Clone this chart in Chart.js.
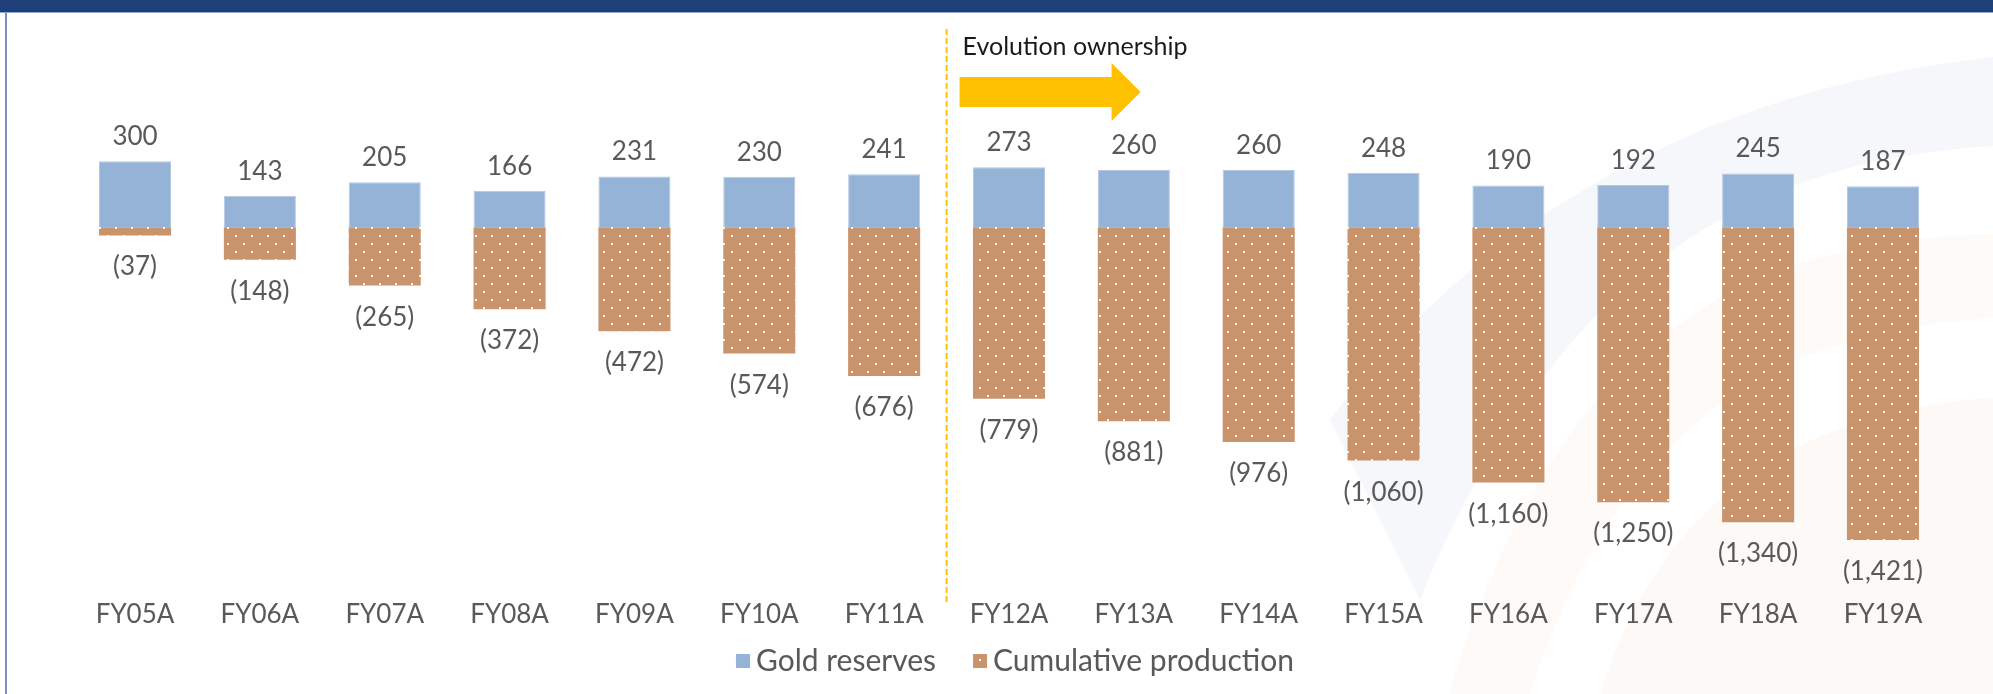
<!DOCTYPE html>
<html>
<head>
<meta charset="utf-8">
<script src="https://cdn.jsdelivr.net/npm/chart.js@4.4.1/dist/chart.umd.min.js"></script>
<style>
  html, body { margin: 0; padding: 0; background: #ffffff; }
  #wrap { position: relative; width: 1993px; height: 694px; overflow: hidden; background: #ffffff; }
  #hdr { position: absolute; left: 0; top: 0; width: 1993px; height: 12px; background: #1F3F78; border-bottom: 1px solid #8FA9D6; }
  #lborder { position: absolute; left: 5px; top: 13px; width: 2px; height: 681px; background: #7590BA; }
  canvas { position: absolute; left: 0; top: 0; }
</style>
</head>
<body>
<div id="wrap">
  <canvas id="c" width="1993" height="694"></canvas>
  <div id="hdr"></div>
  <div id="lborder"></div>
</div>
<script>
const categories = ["FY05A","FY06A","FY07A","FY08A","FY09A","FY10A","FY11A","FY12A","FY13A","FY14A","FY15A","FY16A","FY17A","FY18A","FY19A"];
const goldReserves = [300,143,205,166,231,230,241,273,260,260,248,190,192,245,187];
const cumulativeProduction = [-37,-148,-265,-372,-472,-574,-676,-779,-881,-976,-1060,-1160,-1250,-1340,-1421];
const seriesNames = ["Gold reserves","Cumulative production"];
const annotationText = "Evolution ownership";
const ownershipStartIndex = 7;

const FONT = "Lato, 'Open Sans', sans-serif";
const TEXT = "#595959";

function dotPattern() {
  const t = document.createElement('canvas');
  t.width = 16; t.height = 16;
  const g = t.getContext('2d');
  g.fillStyle = '#C9936B';
  g.fillRect(0, 0, 16, 16);
  g.fillStyle = 'rgba(255,255,255,0.9)';
  g.fillRect(3, 3, 2, 2);
  g.fillRect(11, 11, 2, 2);
  return g.createPattern(t, 'repeat');
}

const ctx = document.getElementById('c').getContext('2d');
const brown = dotPattern();

const bgPlugin = {
  id: 'bg',
  beforeDraw(chart) {
    const c = chart.ctx;
    c.save();
    c.fillStyle = '#ffffff';
    c.fillRect(0, 0, chart.width, chart.height);
    // faint decorative swooshes
    c.fillStyle = '#F5F7FA';
    c.beginPath();
    c.moveTo(1330, 420);
    c.bezierCurveTo(1480, 220, 1700, 90, 1993, 57);
    c.lineTo(1993, 146);
    c.bezierCurveTo(1760, 160, 1560, 260, 1420, 600);
    c.closePath();
    c.fill();
    c.fillStyle = '#FDFAF7';
    c.beginPath();
    c.moveTo(1993, 234);
    c.bezierCurveTo(1750, 240, 1560, 330, 1450, 694);
    c.lineTo(1530, 694);
    c.bezierCurveTo(1620, 420, 1780, 330, 1993, 318);
    c.closePath();
    c.fill();
    c.fillStyle = '#FCF9F6';
    c.beginPath();
    c.moveTo(1993, 398);
    c.bezierCurveTo(1800, 410, 1660, 500, 1600, 694);
    c.lineTo(1993, 694);
    c.closePath();
    c.fill();
    c.restore();
  }
};

const annotPlugin = {
  id: 'annot',
  afterDatasetsDraw(chart) {
    const c = chart.ctx;
    const xs = chart.scales.x;
    const xd = (xs.getPixelForValue(ownershipStartIndex - 1) + xs.getPixelForValue(ownershipStartIndex)) / 2;
    c.save();
    // dashed divider
    c.strokeStyle = '#FFC000';
    c.lineWidth = 2;
    c.setLineDash([6, 3]);
    c.beginPath();
    c.moveTo(xd, 29);
    c.lineTo(xd, 603);
    c.stroke();
    c.setLineDash([]);
    // arrow
    const ax = xd + 13;
    c.fillStyle = '#FFC000';
    c.beginPath();
    c.moveTo(ax, 77);
    c.lineTo(ax + 152, 77);
    c.lineTo(ax + 152, 63);
    c.lineTo(ax + 181, 92);
    c.lineTo(ax + 152, 121);
    c.lineTo(ax + 152, 107);
    c.lineTo(ax, 107);
    c.closePath();
    c.fill();
    // text
    c.fillStyle = '#1a1a1a';
    c.font = "25px " + FONT;
    c.textAlign = 'left';
    c.textBaseline = 'alphabetic';
    c.fillText(annotationText, xd + 16, 55);
    // value labels
    c.fillStyle = TEXT;
    c.font = "26px " + FONT;
    c.textAlign = 'center';
    chart.data.datasets.forEach((ds, di) => {
      const meta = chart.getDatasetMeta(di);
      meta.data.forEach((el, i) => {
        const v = ds.data[i];
        if (v >= 0) {
          c.fillText(v.toLocaleString('en-US'), el.x, el.y - 16);
        } else {
          c.fillText('(' + Math.abs(v).toLocaleString('en-US') + ')', el.x, el.y + 40);
        }
      });
    });
    c.restore();
  }
};

// legend drawn from the datasets (label + fill)
const legendPlugin = {
  id: 'customLegend',
  afterDraw(chart) {
    const c = chart.ctx;
    const box = 14, gap = 6, spacing = 37, cy = 661;
    c.save();
    c.font = "30px " + FONT;
    c.textBaseline = 'middle';
    c.textAlign = 'left';
    const items = chart.data.datasets.map(ds => ({ text: ds.label, fill: ds.backgroundColor, w: c.measureText(ds.label).width }));
    let total = items.reduce((s, it) => s + box + gap + it.w, 0) + spacing * (items.length - 1);
    let x = (chart.chartArea.left + chart.chartArea.right) / 2 - total / 2 + 6;
    items.forEach(it => {
      c.fillStyle = it.fill;
      c.fillRect(x, cy - box / 2, box, box);
      c.fillStyle = TEXT;
      c.fillText(it.text, x + box + gap, cy);
      x += box + gap + it.w + spacing;
    });
    c.restore();
  }
};

new Chart(ctx, {
  type: 'bar',
  data: {
    labels: categories,
    datasets: [
      {
        label: seriesNames[0],
        data: goldReserves,
        backgroundColor: '#95B3D7',
        borderColor: '#B4C8E2',
        borderWidth: 1,
        barPercentage: 0.577,
        categoryPercentage: 1.0
      },
      {
        label: seriesNames[1],
        data: cumulativeProduction,
        backgroundColor: brown,
        borderWidth: 0,
        barPercentage: 0.577,
        categoryPercentage: 1.0
      }
    ]
  },
  options: {
    responsive: false,
    animation: false,
    layout: { padding: { left: 72.6, right: 47.6, top: 20, bottom: 44 } },
    scales: {
      x: {
        stacked: true,
        grid: { display: false },
        border: { display: false },
        ticks: { color: TEXT, font: { family: FONT, size: 26 }, padding: 20, maxRotation: 0, autoSkip: false }
      },
      y: {
        stacked: true,
        min: -1561,
        max: 942,
        border: { display: false },
        grid: {
          drawTicks: false,
          lineWidth: 2,
          color: (ctx) => (ctx.tick && ctx.tick.value === 0) ? '#D9D9D9' : 'rgba(0,0,0,0)'
        },
        ticks: { display: false, stepSize: 100 }
      }
    },
    plugins: {
      legend: { display: false },
      tooltip: { enabled: false }
    }
  },
  plugins: [bgPlugin, annotPlugin, legendPlugin]
});
</script>
</body>
</html>
